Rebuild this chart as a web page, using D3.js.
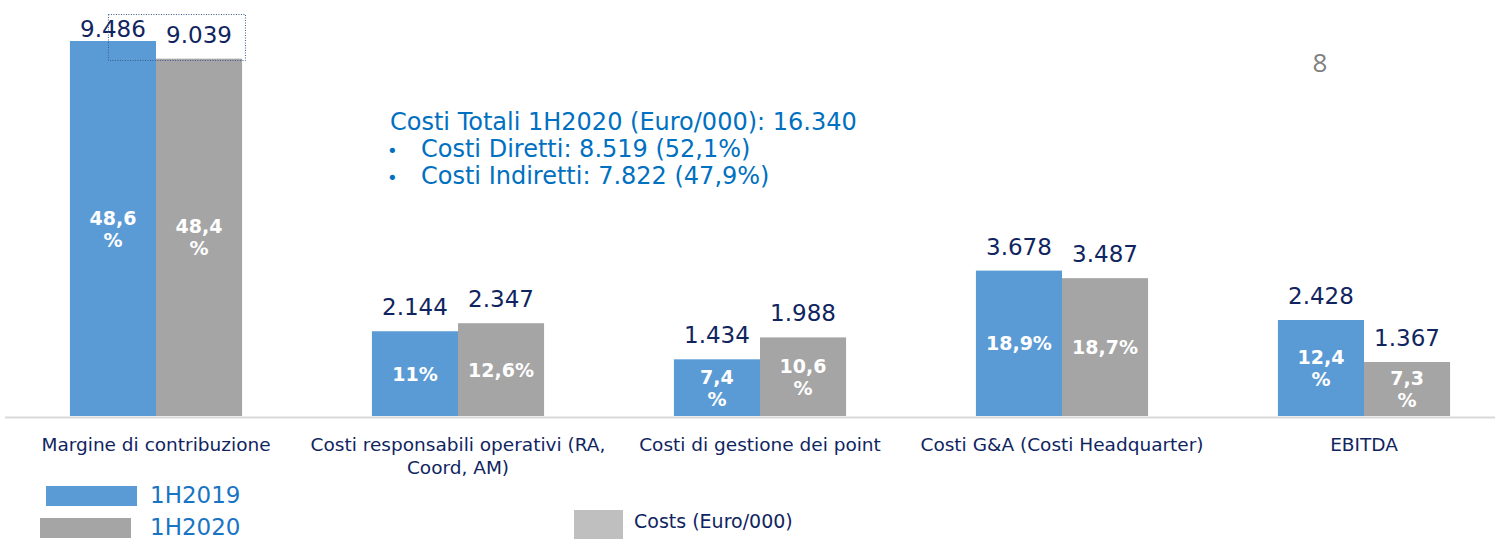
<!DOCTYPE html>
<html>
<head>
<meta charset="utf-8">
<script src="https://cdn.jsdelivr.net/npm/d3@7"></script>
<style>
  body { margin: 0; background: #fff; }
  text { font-family: "DejaVu Sans", Verdana, sans-serif; }
</style>
</head>
<body>
<div id="viz"></div>
<script>
// data
var categories = ["Margine di contribuzione", "Costi responsabili operativi (RA, Coord, AM)", "Costi di gestione dei point", "Costi G&A (Costi Headquarter)", "EBITDA"];
var catLines = [["Margine di contribuzione"], ["Costi responsabili operativi (RA,", "Coord, AM)"], ["Costi di gestione dei point"], ["Costi G&A (Costi Headquarter)"], ["EBITDA"]];
var series = ["1H2019", "1H2020"];
var values2019 = [9486, 2144, 1434, 3678, 2428];
var values2020 = [9039, 2347, 1988, 3487, 1367];
var valueLabels2019 = ["9.486", "2.144", "1.434", "3.678", "2.428"];
var valueLabels2020 = ["9.039", "2.347", "1.988", "3.487", "1.367"];
var pct2019 = [["48,6", "%"], ["11%"], ["7,4", "%"], ["18,9%"], ["12,4", "%"]];
var pct2020 = [["48,4", "%"], ["12,6%"], ["10,6", "%"], ["18,7%"], ["7,3", "%"]];
var noteLines = ["Costi Totali 1H2020 (Euro/000): 16.340", "Costi Diretti: 8.519 (52,1%)", "Costi Indiretti: 7.822 (47,9%)"];

var W = 1495, H = 539;
var colors = {"1H2019": "#5b9bd5", "1H2020": "#a5a5a5"};
var navy = "#10255f";

var svg = d3.select("#viz").append("svg")
    .attr("width", W)
    .attr("height", H);

var x = d3.scaleBand()
    .domain(categories)
    .range([5, 1515])
    .paddingInner(0.43)
    .paddingOuter(0.215);

var x1 = d3.scaleBand()
    .domain(series)
    .range([0, x.bandwidth()]);

var baseY = 416;
var y = d3.scaleLinear()
    .domain([0, 9486])
    .range([baseY, 41]);

var rows = categories.map(function(c, i) {
    return {
        cat: c, lines: catLines[i],
        bars: [
            {s: "1H2019", v: values2019[i], label: valueLabels2019[i], pct: pct2019[i]},
            {s: "1H2020", v: values2020[i], label: valueLabels2020[i], pct: pct2020[i]}
        ]
    };
});

// axis line
svg.append("line")
    .attr("x1", 5).attr("x2", W)
    .attr("y1", baseY + 1.5).attr("y2", baseY + 1.5)
    .style("stroke", "#d9d9d9")
    .style("stroke-width", 2);

var g = svg.selectAll("g.cat")
    .data(rows)
    .enter().append("g")
    .attr("class", "cat")
    .attr("transform", function(d) { return "translate(" + x(d.cat) + ",0)"; });

var bar = g.selectAll("g.bar")
    .data(function(d) { return d.bars; })
    .enter().append("g")
    .attr("class", "bar");

bar.append("rect")
    .attr("x", function(d) { return x1(d.s); })
    .attr("width", x1.bandwidth())
    .attr("y", function(d) { return y(d.v); })
    .attr("height", function(d) { return baseY - y(d.v); })
    .style("fill", function(d) { return colors[d.s]; });

// value labels above bars
bar.append("text")
    .attr("x", function(d) { return x1(d.s) + x1.bandwidth() / 2; })
    .attr("y", function(d) { return Math.max(y(d.v) - 16, 37); })
    .attr("text-anchor", "middle")
    .style("font-size", "23px")
    .style("fill", navy)
    .text(function(d) { return d.label; });

// percentages inside bars
bar.each(function(d) {
    var cx = x1(d.s) + x1.bandwidth() / 2;
    var mid = (y(d.v) + baseY) / 2;
    var n = d.pct.length;
    var t = d3.select(this).append("text")
        .attr("text-anchor", "middle")
        .style("font-size", "19px")
        .style("font-weight", "bold")
        .style("fill", "#fff");
    d.pct.forEach(function(line, k) {
        t.append("tspan")
            .attr("x", cx)
            .attr("y", mid + 7 + (k - (n - 1) / 2) * 22)
            .text(line);
    });
});

// category labels
g.each(function(d) {
    var t = d3.select(this).append("text")
        .attr("text-anchor", "middle")
        .style("font-size", "18.5px")
        .style("fill", navy);
    d.lines.forEach(function(line, k) {
        t.append("tspan")
            .attr("x", x.bandwidth() / 2)
            .attr("y", 451 + k * 23)
            .text(line);
    });
});

// dotted selection box around the 9.039 label
svg.append("rect")
    .attr("x", x(categories[0]) + 38.5)
    .attr("y", 14.5)
    .attr("width", 137)
    .attr("height", 46)
    .style("fill", "none")
    .style("stroke", "#3a5a8c")
    .style("stroke-width", 1)
    .style("stroke-dasharray", "1,1.5");

// annotation
var note = svg.append("g").style("fill", "#0070c0");
note.append("text")
    .attr("x", 390).attr("y", 130)
    .style("font-size", "24px")
    .text(noteLines[0]);
noteLines.slice(1).forEach(function(line, k) {
    note.append("text")
        .attr("x", 387).attr("y", 157 + k * 27)
        .style("font-size", "18px")
        .text("\u2022");
    note.append("text")
        .attr("x", 421).attr("y", 157 + k * 27)
        .style("font-size", "24px")
        .text(line);
});

// page number
svg.append("text")
    .attr("x", 1320).attr("y", 72)
    .attr("text-anchor", "middle")
    .style("font-family", "'Open Sans', sans-serif")
    .style("font-size", "26px")
    .style("fill", "#808080")
    .text("8");

// legend
var leg = svg.append("g");
[{s: "1H2019", x: 46, y: 486}, {s: "1H2020", x: 40, y: 518}].forEach(function(l) {
    leg.append("rect")
        .attr("x", l.x).attr("y", l.y)
        .attr("width", 91).attr("height", 20)
        .style("fill", colors[l.s]);
    leg.append("text")
        .attr("x", 150).attr("y", l.y + 17)
        .style("font-size", "23px")
        .style("fill", "#1a74c4")
        .text(l.s);
});
leg.append("rect")
    .attr("x", 574).attr("y", 510)
    .attr("width", 49).attr("height", 29)
    .style("fill", "#bfbfbf");
leg.append("text")
    .attr("x", 634).attr("y", 528)
    .style("font-size", "19px")
    .style("fill", navy)
    .text("Costs (Euro/000)");
</script>
</body>
</html>
